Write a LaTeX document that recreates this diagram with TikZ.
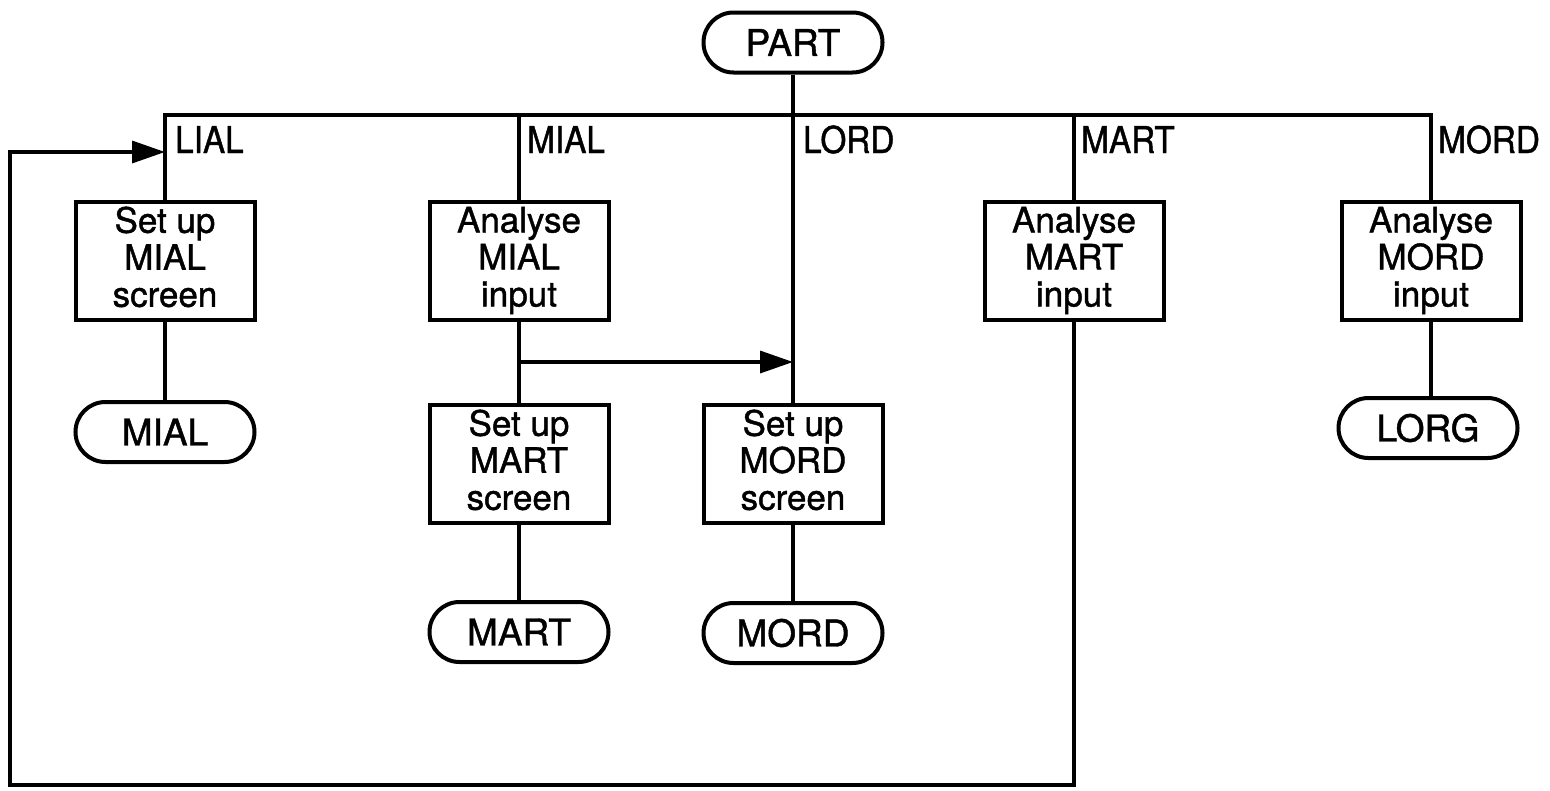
\documentclass[tikz,border=0pt]{standalone}
\usepackage{fontspec}
\setmainfont{TeX Gyre Heros}
\newfontfamily\lettering{TeX Gyre Heros}[FakeBold=1.2]
\newfontfamily\narrowlettering{TeX Gyre Heros}[FakeBold=1.2,FakeStretch=0.9]
\usetikzlibrary{arrows.meta}
\begin{document}
\begin{tikzpicture}[x=1pt,y=-1pt,
  every node/.style={font=\lettering\fontsize{37}{36}\selectfont, inner sep=0pt},
  proc/.style={draw, line width=4pt, minimum width=179pt, minimum height=118pt, align=center,
    font=\lettering\fontsize{35}{37}\selectfont},
  term/.style={draw, line width=4pt, rounded corners=30pt, minimum width=179pt, minimum height=60pt},
  conn/.style={line width=3.5pt, line join=miter},
  arr/.style={conn, -{Triangle[length=33pt,width=22pt]}},
  lab/.style={anchor=base west, font=\narrowlettering\fontsize{37}{36}\selectfont}]
\fill[white] (0,0) rectangle (1550,790);
\useasboundingbox (0,0) rectangle (1550,790);

% top terminal
\node[term] (part) at (793,42.5) {PART};

% first row boxes
\node[proc] (b1) at (165,260.5) {Set up\\MIAL\\screen\vphantom{p}};
\node[proc] (a2) at (519,260.5) {Analyse\\MIAL\\input};
\node[proc] (a4) at (1074,260.5) {Analyse\\MART\\input};
\node[proc] (a5) at (1431,260.5) {Analyse\\MORD\\input};

% second row boxes
\node[proc] (b2) at (519,463.5) {Set up\\MART\\screen\vphantom{p}};
\node[proc] (b3) at (793,463.5) {Set up\\MORD\\screen\vphantom{p}};

% terminals
\node[term] (t1) at (165,432) {MIAL};
\node[term] (t5) at (1428,428) {LORG};
\node[term] (t2) at (519,632) {MART};
\node[term] (t3) at (793,633) {MORD};

% bus
\coordinate (busL) at (165,115);
\coordinate (busR) at (1431,115);
\coordinate (j2) at (519,115);
\coordinate (j4) at (1074,115);
\draw[conn] (b1.north) -- (busL) -- (busR) -- (a5.north);
\draw[conn] (j2) -- (a2.north);
\draw[conn] (j4) -- (a4.north);
\draw[conn] (part.south) -- (b3.north);

% branch labels
\node[lab] (lLIAL) at (175,153) {LIAL};
\node[lab] (lMIAL) at (527,153) {MIAL};
\node[lab] (lLORD) at (803,153) {LORD};
\node[lab] (lMART) at (1081,153) {MART};
\node[lab] (lMORD) at (1438,153) {MORD};

% vertical connectors
\draw[conn] (b1.south) -- (t1.north);
\draw[conn] (a2.south) -- (b2.north);
\draw[conn] (b2.south) -- (t2.north);
\draw[conn] (b3.south) -- (t3.north);
\draw[conn] (a5.south) -- (a5.south |- t5.north);

% arrow from MIAL branch to LORD branch
\coordinate (fork) at (519,362);
\coordinate (hit) at (793,362);
\draw[arr] (fork) -- (hit);

% loop back to LIAL
\coordinate (loopBR) at (1074,785);
\coordinate (loopBL) at (10,785);
\coordinate (lpin) at (165,152);
\draw[arr] (a4.south) -- (loopBR) -- (loopBL) |- (lpin);
\end{tikzpicture}
\end{document}
